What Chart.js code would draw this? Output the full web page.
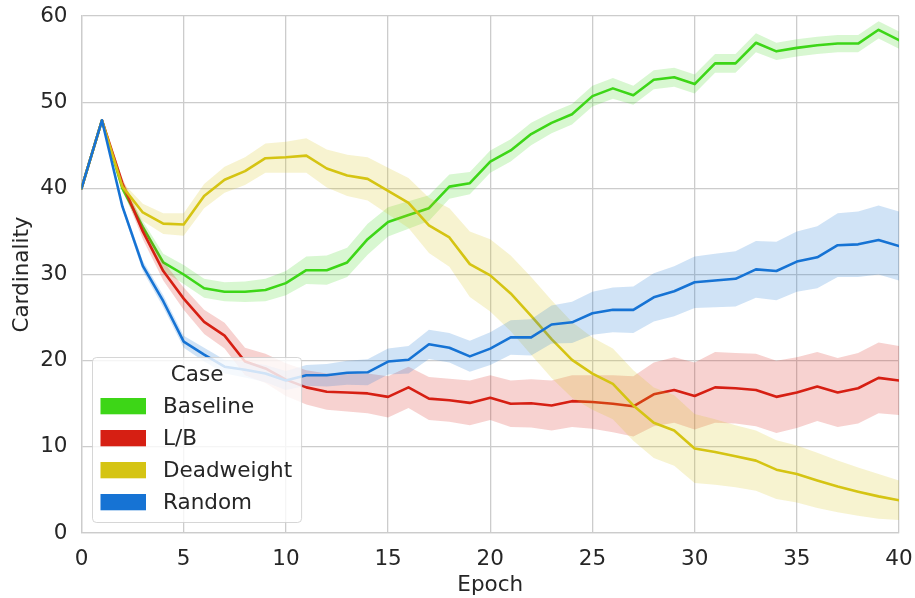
<!DOCTYPE html>
<html>
<head>
<meta charset="utf-8">
<script src="https://cdn.jsdelivr.net/npm/chart.js@4/dist/chart.umd.min.js"></script>
<style>
  html, body { margin: 0; padding: 0; background: #ffffff; }
  #wrap { width: 915px; height: 598px; position: relative; }
</style>
</head>
<body>
<div id="wrap"><canvas id="chart"></canvas></div>
<script>
// Training epochs on the x axis
const epochs = [0, 1, 2, 3, 4, 5, 6, 7, 8, 9, 10, 11, 12, 13, 14, 15, 16, 17, 18, 19, 20,
                21, 22, 23, 24, 25, 26, 27, 28, 29, 30, 31, 32, 33, 34, 35, 36, 37, 38, 39, 40];

// Mean cardinality per case
const baseline = [40.0, 47.9, 40.0, 35.5, 31.4, 30.0, 28.4, 28.0, 28.0, 28.2, 29.0, 30.5, 30.5, 31.4, 34.1,
                  36.1, 36.9, 37.7, 40.2, 40.6, 43.1, 44.4, 46.3, 47.6, 48.6, 50.7, 51.6, 50.8, 52.6, 52.9,
                  52.1, 54.5, 54.5, 56.9, 55.9, 56.3, 56.6, 56.8, 56.8, 58.4, 57.2];
const lb = [40.0, 47.9, 40.6, 35.0, 30.4, 27.2, 24.5, 22.9, 19.9, 19.1, 17.8, 16.9, 16.4, 16.3, 16.2,
            15.8, 16.9, 15.6, 15.4, 15.1, 15.7, 15.0, 15.05, 14.8, 15.3, 15.2, 15.0, 14.7, 16.1, 16.6,
            15.9, 16.9, 16.8, 16.6, 15.8, 16.3, 17.0, 16.3, 16.8, 18.0, 17.7];
const deadweight = [40.0, 47.9, 40.2, 37.2, 35.9, 35.8, 39.1, 41.0, 42.0, 43.5, 43.6, 43.8, 42.3, 41.5, 41.1,
                    39.7, 38.3, 35.7, 34.3, 31.2, 29.9, 27.8, 25.2, 22.5, 20.1, 18.5, 17.3, 14.8, 12.8, 11.9,
                    9.8, 9.4, 8.9, 8.4, 7.35, 6.85, 6.1, 5.4, 4.8, 4.25, 3.8];
const random = [40.0, 47.9, 37.9, 31.0, 26.9, 22.2, 20.7, 19.3, 18.95, 18.5, 17.7, 18.3, 18.3, 18.6, 18.65,
                19.9, 20.1, 21.9, 21.5, 20.5, 21.4, 22.7, 22.7, 24.2, 24.45, 25.5, 25.9, 25.9, 27.35, 28.05,
                29.1, 29.3, 29.5, 30.6, 30.4, 31.5, 32.0, 33.4, 33.5, 34.0, 33.3];

// Half-width of the confidence band around each mean
const baselineSpread = [0, 0.1, 0.4, 0.7, 1.0, 1.1, 1.1, 1.1, 1.2, 1.3, 1.4, 1.6, 1.7, 1.7, 1.8,
                        1.7, 1.6, 1.5, 1.4, 1.3, 1.3, 1.3, 1.3, 1.2, 1.2, 1.2, 1.2, 1.1, 1.1, 1.1,
                        1.1, 1.1, 1.1, 1.1, 1.0, 1.0, 1.0, 1.0, 1.0, 1.0, 1.0];
const lbSpread = [0, 0.2, 0.6, 0.9, 1.1, 1.3, 1.4, 1.5, 1.6, 1.7, 1.9, 2.0, 2.1, 2.2, 2.3,
                  2.4, 2.4, 2.5, 2.5, 2.6, 2.6, 2.7, 2.8, 2.9, 3.0, 3.1, 3.3, 3.5, 3.7, 3.8,
                  3.9, 4.1, 4.1, 4.2, 4.2, 4.1, 4.0, 4.0, 4.1, 4.1, 4.0];
const deadweightSpread = [0, 0.1, 0.5, 1.0, 1.2, 1.3, 1.4, 1.5, 1.6, 1.7, 1.8, 2.0, 2.2, 2.4, 2.5,
                          2.7, 2.9, 3.2, 3.4, 3.8, 4.2, 4.4, 4.5, 4.5, 4.4, 4.2, 4.1, 4.1, 4.1, 4.1,
                          4.0, 3.8, 3.6, 3.5, 3.4, 3.3, 3.2, 3.0, 2.8, 2.6, 2.3];
const randomSpread = [0, 0.1, 0.4, 0.6, 0.7, 0.7, 0.8, 0.8, 0.9, 1.0, 1.1, 1.2, 1.3, 1.4, 1.5,
                      1.5, 1.6, 1.7, 1.7, 1.8, 1.9, 2.0, 2.1, 2.2, 2.4, 2.5, 2.6, 2.7, 2.8, 2.9,
                      3.0, 3.1, 3.2, 3.3, 3.4, 3.5, 3.6, 3.7, 3.8, 4.0, 4.0];

const seriesNames = ['Baseline', 'L/B', 'Deadweight', 'Random'];
const seriesMeans = [baseline, lb, deadweight, random];
const seriesSpreads = [baselineSpread, lbSpread, deadweightSpread, randomSpread];
const seriesColors = ['rgb(61,214,23)', 'rgb(214,31,19)', 'rgb(213,196,19)', 'rgb(22,115,212)'];
const bandColors = ['rgba(61,214,23,0.2)', 'rgba(214,31,19,0.2)', 'rgba(213,196,19,0.2)', 'rgba(22,115,212,0.2)'];

const xTicks = [0, 5, 10, 15, 20, 25, 30, 35, 40];
const yTicks = [0, 10, 20, 30, 40, 50, 60];

const FONT = 'DejaVu Sans';
const FONT_SIZE = 21.5;
const TEXT = '#262626';
const GRID = '#cccccc';

const pts = (vals) => epochs.map((e, i) => ({ x: e, y: vals[i] }));

// For each case: band upper edge, band lower edge (filled to the upper), then the mean line
const datasets = [];
seriesNames.forEach((name, s) => {
  const mean = seriesMeans[s], spread = seriesSpreads[s];
  const bandOrder = 20 - 2 * s;
  datasets.push({
    label: name + ' upper',
    data: pts(mean.map((v, i) => v + spread[i])),
    borderColor: 'rgba(0,0,0,0)', borderWidth: 0, pointRadius: 0, fill: false,
    order: bandOrder
  });
  datasets.push({
    label: name + ' lower',
    data: pts(mean.map((v, i) => v - spread[i])),
    borderColor: 'rgba(0,0,0,0)', borderWidth: 0, pointRadius: 0,
    fill: '-1', backgroundColor: bandColors[s],
    order: bandOrder
  });
  datasets.push({
    label: name,
    data: pts(mean),
    borderColor: seriesColors[s], borderWidth: 2.6, pointRadius: 0, fill: false,
    borderJoinStyle: 'round', borderCapStyle: 'round',
    order: bandOrder - 1
  });
});

// Framed legend with a title, drawn inside the lower-left of the plot
const caseLegend = {
  id: 'caseLegend',
  afterDatasetsDraw(chart) {
    const { ctx, chartArea } = chart;
    ctx.save();
    ctx.font = FONT_SIZE + 'px "' + FONT + '"';
    const textW = Math.max(...seriesNames.map(n => ctx.measureText(n).width));
    const left = chartArea.left + 11;
    const bottom = chartArea.bottom - 10.5;
    const height = 165;
    const top = bottom - height;
    const labelX = left + 70.5;
    const width = labelX + textW + 9.5 - left;

    ctx.beginPath();
    ctx.roundRect(left, top, width, height, 4);
    ctx.fillStyle = 'rgba(255,255,255,0.8)';
    ctx.fill();
    ctx.lineWidth = 1;
    ctx.strokeStyle = 'rgba(204,204,204,0.8)';
    ctx.stroke();

    ctx.fillStyle = TEXT;
    ctx.textBaseline = 'middle';
    ctx.textAlign = 'center';
    ctx.fillText('Case', left + width / 2, top + 18);

    ctx.textAlign = 'left';
    seriesNames.forEach((name, i) => {
      const cy = top + 48.5 + i * 32;
      ctx.fillStyle = seriesColors[i];
      ctx.fillRect(left + 8, cy - 8, 45.5, 16.3);
      ctx.fillStyle = TEXT;
      ctx.fillText(name, labelX, cy + 1);
    });
    ctx.restore();
  }
};

new Chart(document.getElementById('chart'), {
  type: 'line',
  data: { datasets },
  plugins: [caseLegend],
  options: {
    responsive: true,
    maintainAspectRatio: false,
    animation: false,
    events: [],
    layout: { padding: { top: 16, right: 16, left: 0, bottom: 0 } },
    elements: { line: { tension: 0 } },
    plugins: {
      legend: { display: false },
      tooltip: { enabled: false },
      filler: { propagate: false }
    },
    scales: {
      x: {
        type: 'linear',
        min: 0, max: 40,
        afterBuildTicks: (scale) => { scale.ticks = xTicks.map(v => ({ value: v })); },
        afterFit: (scale) => {
          scale.height = 65;
          scale.paddingLeft = 0;
          scale.paddingRight = 0;
        },
        ticks: { color: TEXT, font: { family: FONT, size: FONT_SIZE }, padding: 14, maxRotation: 0 },
        grid: { color: GRID, lineWidth: 1.3, drawTicks: false },
        border: { color: GRID, width: 1.3 },
        title: { display: true, text: 'Epoch', color: TEXT, font: { family: FONT, size: FONT_SIZE }, padding: { top: 0, bottom: 0 } }
      },
      y: {
        min: 0, max: 60,
        afterBuildTicks: (scale) => { scale.ticks = yTicks.map(v => ({ value: v })); },
        afterFit: (scale) => {
          scale.width = 81.5;
          scale.paddingTop = 0;
          scale.paddingBottom = 0;
        },
        ticks: { color: TEXT, font: { family: FONT, size: FONT_SIZE }, padding: 14 },
        grid: { color: GRID, lineWidth: 1.3, drawTicks: false },
        border: { color: GRID, width: 1.3 },
        title: { display: true, text: 'Cardinality', color: TEXT, font: { family: FONT, size: FONT_SIZE }, padding: { top: 10, bottom: 0 } }
      }
    }
  }
});
</script>
</body>
</html>
